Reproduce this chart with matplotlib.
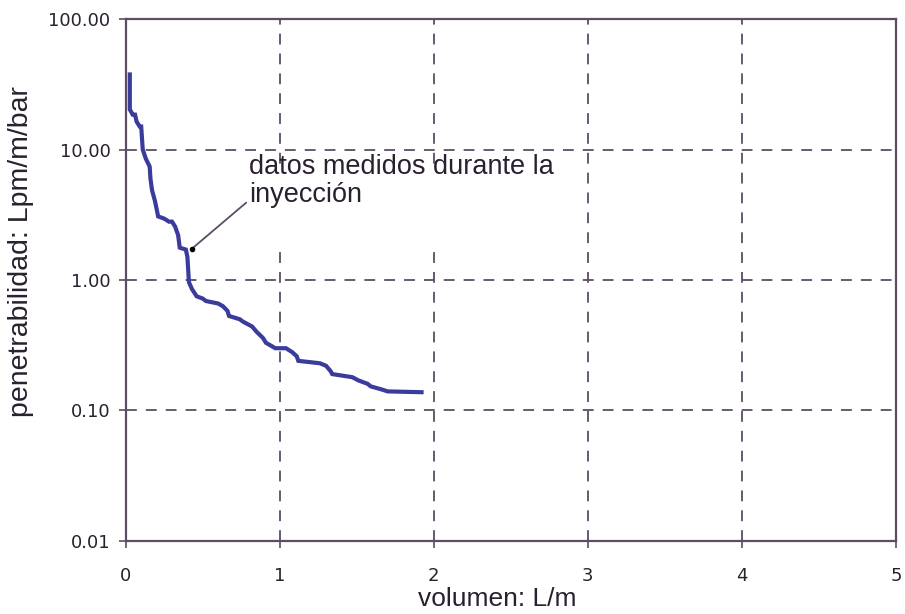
import matplotlib.pyplot as plt
from matplotlib.patches import Rectangle
from matplotlib.ticker import FixedLocator, NullLocator

# volumen (L/m) vs penetrabilidad (Lpm/m/bar)
volumen = [0.026, 0.026, 0.045, 0.06, 0.07, 0.09, 0.10, 0.11, 0.13, 0.155, 0.16,
           0.17, 0.19, 0.21, 0.25, 0.28, 0.30, 0.32, 0.34, 0.35, 0.39, 0.40,
           0.41, 0.43, 0.46, 0.50, 0.52, 0.60, 0.63, 0.66, 0.67, 0.74, 0.76,
           0.82, 0.85, 0.89, 0.91, 0.95, 0.97, 1.04, 1.08, 1.11, 1.12, 1.26,
           1.30, 1.33, 1.34, 1.47, 1.51, 1.57, 1.59, 1.66, 1.70, 1.92]
penetrabilidad = [37.6, 20.3, 18.5, 18.5, 16.4, 15.0, 15.0, 10.0, 8.5, 7.4, 6.0,
                  4.9, 4.0, 3.07, 2.95, 2.8, 2.8, 2.57, 2.2, 1.77, 1.71, 1.5,
                  0.96, 0.85, 0.75, 0.72, 0.69, 0.66, 0.63, 0.58, 0.53, 0.50, 0.48,
                  0.44, 0.40, 0.36, 0.33, 0.31, 0.30, 0.30, 0.28, 0.26, 0.24, 0.23,
                  0.22, 0.20, 0.19, 0.18, 0.17, 0.16, 0.153, 0.145, 0.14, 0.138]

x_ticks = [0, 1, 2, 3, 4, 5]
y_ticks = [0.01, 0.1, 1, 10, 100]
y_labels = ["0.01", "0.10", "1.00", "10.00", "100.00"]

spine_col = "#5c4d66"
text_col = "#2a2030"
label_font = ["Liberation Sans", "DejaVu Sans"]

fig = plt.figure(figsize=(9.05, 6.14), dpi=100)
ax = fig.add_axes([0.139, 0.119, 0.851, 0.850])

ax.plot(volumen, penetrabilidad, color="#3b3b9c", linewidth=3, solid_joinstyle="miter", zorder=3)

ax.set_yscale("log")
ax.set_xlim(0, 5)
ax.set_ylim(0.01, 100)
ax.yaxis.set_major_locator(FixedLocator(y_ticks))
ax.yaxis.set_minor_locator(NullLocator())
ax.set_yticklabels(y_labels)
ax.set_xticks(x_ticks)
ax.set_xticklabels([str(t) for t in x_ticks])

ax.grid(True, which="major", linestyle=(0, (6, 5)), color="#5c4d66", linewidth=1.3)
for s in ax.spines.values():
    s.set_color(spine_col)
    s.set_linewidth(1.6)

ax.tick_params(direction="out", length=5, width=1.2, color=spine_col,
               labelsize=13, labelcolor=text_col, pad=6)
ax.tick_params(axis="x", pad=14)

ax.set_xlabel("volumen: L/m", fontsize=19, color=text_col, family=label_font)
ax.set_ylabel("penetrabilidad: Lpm/m/bar", fontsize=20.5, color=text_col, family=label_font)
ax.xaxis.set_label_coords(0.482, -0.088)
ax.yaxis.set_label_coords(-0.119, 0.554)

# white box behind the note hides the vertical gridlines there
ax.add_patch(Rectangle((0.75, 1.85), 1.6, 5.1, facecolor="white", edgecolor="none", zorder=1.6))

ax.annotate("datos medidos durante la\ninyección", xy=(0.43, 1.74), xytext=(0.8, 5.7),
            fontsize=19.5, color=text_col, va="center", ha="left", linespacing=1.1,
            family=label_font, zorder=4,
            arrowprops=dict(arrowstyle="-", color="#5c4d66", lw=1.3,
                            shrinkA=0, shrinkB=0, relpos=(0, 0.15)))
ax.plot([0.43], [1.74], marker="o", markersize=3, color="black", zorder=4)

fig.savefig("out.png", dpi=100)
